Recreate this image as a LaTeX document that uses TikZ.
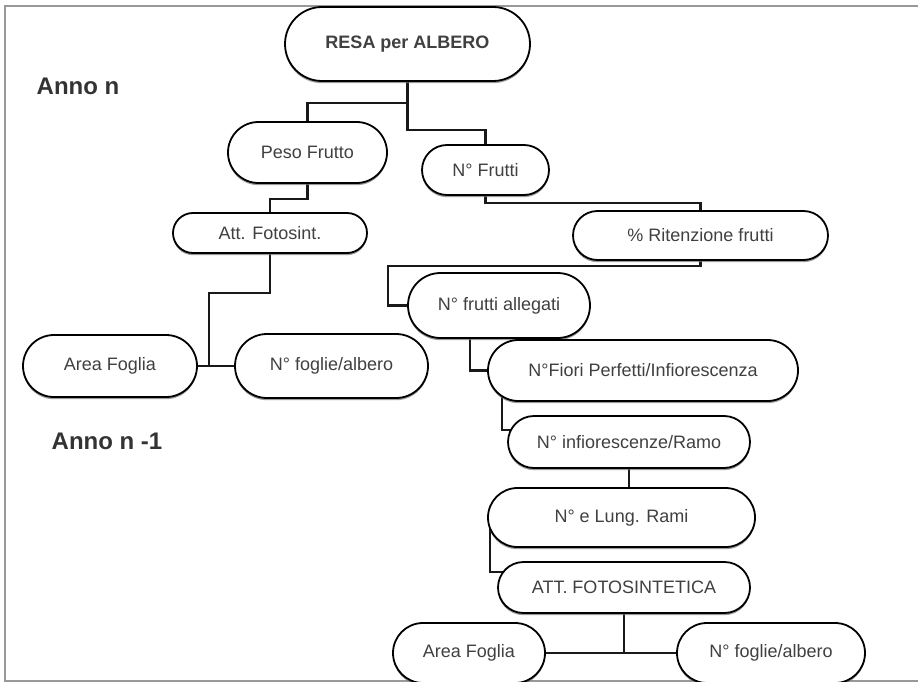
\documentclass[tikz,border=0pt]{standalone}
\usepackage{fontspec}
\setmainfont{Liberation Sans}
\usetikzlibrary{shapes.misc,shadows,backgrounds,calc}
\begin{document}
\begin{tikzpicture}[x=1pt,y=-1pt,
  pill/.style={rounded rectangle, draw=black, line width=1.8pt, fill=white,
    inner sep=0pt, text=black!75,
    font=\fontsize{18}{20}\selectfont,
    drop shadow={shadow xshift=0pt, shadow yshift=-2.2pt, fill=black!55, opacity=0.7}},
  conn/.style={draw=black!90, line width=2.1pt},
  frame/.style={draw=black!40, line width=2pt},
  annolbl/.style={font=\fontsize{24}{26}\selectfont\bfseries, text=black!80}]
\useasboundingbox (0,0) rectangle (918,682);

\node[pill, minimum width=245pt, minimum height=74pt, font=\fontsize{18}{20}\selectfont\bfseries] (resa) at (407.5,44) {RESA per ALBERO};
\node[annolbl] (annon) at (78,86) {Anno n};
\node[pill, minimum width=159pt, minimum height=61pt] (peso) at (307.5,152.5) {Peso Frutto};
\node[pill, minimum width=127pt, minimum height=50pt] (nfrutti) at (485.5,170) {N° Frutti};
\node[pill, minimum width=255pt, minimum height=49pt] (rit) at (700.5,235.5) {\% Ritenzione frutti};
\node[pill, minimum width=194pt, minimum height=40pt] (att) at (270,233) {Att. Fotosint.};
\node[pill, minimum width=182pt, minimum height=65pt] (allegati) at (499,305.5) {N° frutti allegati};
\node[pill, minimum width=174pt, minimum height=62pt] (area1) at (110,366) {Area Foglia};
\node[pill, minimum width=193pt, minimum height=64pt] (foglie1) at (331.5,366) {N° foglie/albero};
\node[pill, minimum width=310pt, minimum height=61pt] (fiori) at (643,370.5) {N°Fiori Perfetti/Infiorescenza};
\node[pill, minimum width=242pt, minimum height=52pt] (infior) at (629,442) {N° infiorescenze/Ramo};
\node[annolbl] (annon1) at (107,441) {Anno n -1};
\node[pill, minimum width=267pt, minimum height=59pt] (rami) at (621.5,517.5) {N° e Lung. Rami};
\node[pill, minimum width=252pt, minimum height=51pt] (attfoto) at (624,587.5) {ATT. FOTOSINTETICA};
\node[pill, minimum width=152pt, minimum height=60pt] (area2) at (469,653) {Area Foglia};
\node[pill, minimum width=188pt, minimum height=60pt] (foglie2) at (771,653) {N° foglie/albero};

\begin{pgfonlayer}{background}
\fill[white] (0,0) rectangle (918,682);
\draw[frame] (918,6) -- (5,6) -- (5,681) -- (918,681);
\draw[conn] (resa.south) -- (resa.south |- 0,103) -| (peso.north);
\draw[conn] (resa.south) -- (resa.south |- 0,130) -| (nfrutti.north);
\draw[conn] (nfrutti.south) -- (nfrutti.south |- 0,203) -| (rit.north);
\draw[conn] (rit.south) -- (rit.south |- 0,266) -| (allegati.west -| 388,0) -- (allegati.center);
\draw[conn] (peso.south) -- (peso.south |- 0,199) -| (att.north);
\draw[conn] (att.south) -- (att.south |- 0,293) -| (area1.east -| 209,0);
\draw[conn] (area1.east) -- (foglie1.west);
\draw[conn] (allegati.center -| 470,0) |- (fiori.center);
\draw[conn] (fiori.center -| 502,0) |- (infior.center |- 0,430);
\draw[conn] (infior.south) -- (infior.south |- rami.north);
\draw[conn] (rami.center -| 490,0) |- (attfoto.center |- 0,572);
\draw[conn] (attfoto.south) -- (attfoto.south |- 0,653);
\draw[conn] (area2.east) -- (foglie2.west);
\end{pgfonlayer}
\end{tikzpicture}
\end{document}
